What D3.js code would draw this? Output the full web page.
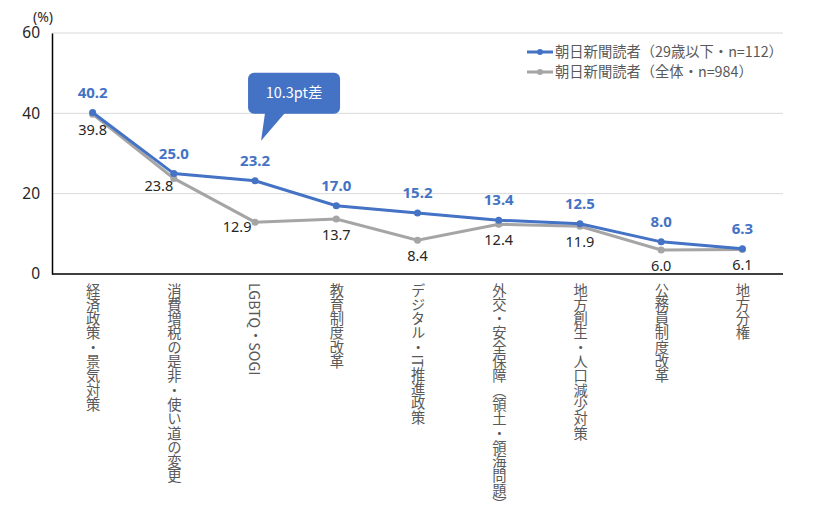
<!DOCTYPE html>
<html>
<head>
<meta charset="utf-8">
<script src="https://cdn.jsdelivr.net/npm/d3@7"></script>
<style>
  body { margin: 0; background: #fff; font-family: "Noto Sans CJK JP", "Noto Sans", sans-serif; }
  #wrap { position: relative; width: 836px; height: 523px; }
  svg { display: block; position: absolute; left: 0; top: 0; }
  .cat { position: absolute; writing-mode: vertical-rl; font-size: 14.3px; line-height: 1; color: #595959;
    white-space: nowrap; transform: translateX(-50%); }
</style>
</head>
<body>
<div id="wrap"><svg id="chart" width="836" height="523"></svg></div>
<script>
const categories = ['経済政策・景気対策', '消費増税の是非・使い道の変更', 'LGBTQ・SOGI', '教育制度改革',
  'デジタル・IT推進政策', '外交・安全保障（領土・領海問題）', '地方創生・人口減少対策', '公務員制度改革', '地方分権']
const young = [40.2, 25.0, 23.2, 17.0, 15.2, 13.4, 12.5, 8.0, 6.3]
const all = [39.8, 23.8, 12.9, 13.7, 8.4, 12.4, 11.9, 6.0, 6.1]
const yTicks = [0, 20, 40, 60]
const seriesNames = ['朝日新聞読者（29歳以下・n=112）', '朝日新聞読者（全体・n=984）']
const calloutText = '10.3pt差'

const blue = '#4472C4', gray = '#A5A5A5'
const margin = { top: 33, right: 53, bottom: 249, left: 52 }
const width = 836 - margin.left - margin.right,
  height = 523 - margin.top - margin.bottom

const svg = d3.select('#chart')
const g = svg.append('g').attr('transform', `translate(${margin.left},${margin.top})`)

const x = d3.scaleBand().domain(categories).range([0, width])
const y = d3.scaleLinear().domain([0, 60]).range([height, 0])
const cx = d => x(d) + x.bandwidth() / 2

// gridlines
g.selectAll('.grid').data(yTicks.filter(t => t > 0)).join('line')
  .attr('x1', 0).attr('x2', width)
  .attr('y1', d => y(d)).attr('y2', d => y(d))
  .attr('stroke', '#d9d9d9').attr('stroke-width', 1)

// axes
const yAxis = g.append('g').call(d3.axisLeft(y).tickValues(yTicks).tickSize(0).tickPadding(12))
yAxis.select('.domain').attr('stroke', '#000').attr('stroke-width', 1.5)
yAxis.selectAll('text').attr('font-size', 15.5).attr('fill', '#262626')
  .attr('font-family', '"Noto Sans", sans-serif')

g.append('line').attr('x1', 0).attr('x2', width).attr('y1', height).attr('y2', height)
  .attr('stroke', '#000').attr('stroke-width', 1.5)

svg.append('text').attr('x', 33).attr('y', 22).text('(%)')
  .attr('font-size', 14).attr('fill', '#262626').attr('font-family', '"Noto Sans", sans-serif')

// vertical category labels (html, vertical writing mode)
d3.select('#wrap').selectAll('.cat').data(categories).join('div')
  .attr('class', 'cat')
  .style('left', d => (margin.left + cx(d)) + 'px')
  .style('top', (margin.top + height + 9) + 'px')
  .text(d => d)

const line = d3.line().x((d, i) => cx(categories[i])).y(d => y(d))

// all readers (gray)
g.append('path').datum(all).attr('d', line).attr('fill', 'none')
  .attr('stroke', gray).attr('stroke-width', 3)
g.selectAll('.pa').data(all).join('circle')
  .attr('cx', (d, i) => cx(categories[i])).attr('cy', d => y(d)).attr('r', 3.5).attr('fill', gray)

// young readers (blue)
g.append('path').datum(young).attr('d', line).attr('fill', 'none')
  .attr('stroke', blue).attr('stroke-width', 3)
g.selectAll('.pb').data(young).join('circle')
  .attr('cx', (d, i) => cx(categories[i])).attr('cy', d => y(d)).attr('r', 3.5).attr('fill', blue)

// labels
g.selectAll('.lb').data(young).join('text')
  .attr('x', (d, i) => cx(categories[i])).attr('y', d => y(d) - 15)
  .attr('text-anchor', 'middle').attr('font-size', 15).attr('font-weight', 'bold')
  .attr('fill', blue).attr('font-family', '"Noto Sans", sans-serif')
  .text(d => d.toFixed(1))
// the two labels next to the steep drop sit left of their points
g.selectAll('.la').data(all).join('text')
  .attr('x', (d, i) => cx(categories[i]) - (i === 1 ? 15 : i === 2 ? 18 : 0))
  .attr('y', (d, i) => y(d) + (i === 1 ? 13 : i === 2 ? 10 : 21))
  .attr('text-anchor', 'middle').attr('font-size', 14.5)
  .attr('fill', '#262626').attr('font-family', '"Noto Sans", sans-serif')
  .text(d => d.toFixed(1))

// callout
const ci = 2
const tipX = cx(categories[ci]) + 6, tipY = y(young[ci]) - 40
const bx = tipX - 13, by = tipY - 68, bw = 92, bh = 41
const callout = g.append('g')
callout.append('rect').attr('x', bx).attr('y', by).attr('width', bw).attr('height', bh)
  .attr('rx', 6).attr('fill', blue)
callout.append('path')
  .attr('d', `M${tipX + 4},${by + bh - 1} L${tipX + 24},${by + bh - 1} L${tipX},${tipY} Z`)
  .attr('fill', blue)
callout.append('text').attr('x', bx + bw / 2).attr('y', by + 25)
  .attr('text-anchor', 'middle').attr('font-size', 14.5).attr('fill', '#fff')
  .text(calloutText)

// legend
const legend = svg.append('g').attr('transform', 'translate(527,52)')
const lg = legend.selectAll('g').data(seriesNames).join('g')
  .attr('transform', (d, i) => `translate(0,${i * 20})`)
lg.append('line').attr('x1', 0).attr('x2', 26).attr('stroke', (d, i) => i ? gray : blue).attr('stroke-width', 3)
lg.append('circle').attr('cx', 13).attr('r', 3).attr('fill', (d, i) => i ? gray : blue)
lg.append('text').attr('x', 28).attr('y', 5).attr('font-size', 14.3).attr('fill', '#595959').text(d => d)
</script>
</body>
</html>
